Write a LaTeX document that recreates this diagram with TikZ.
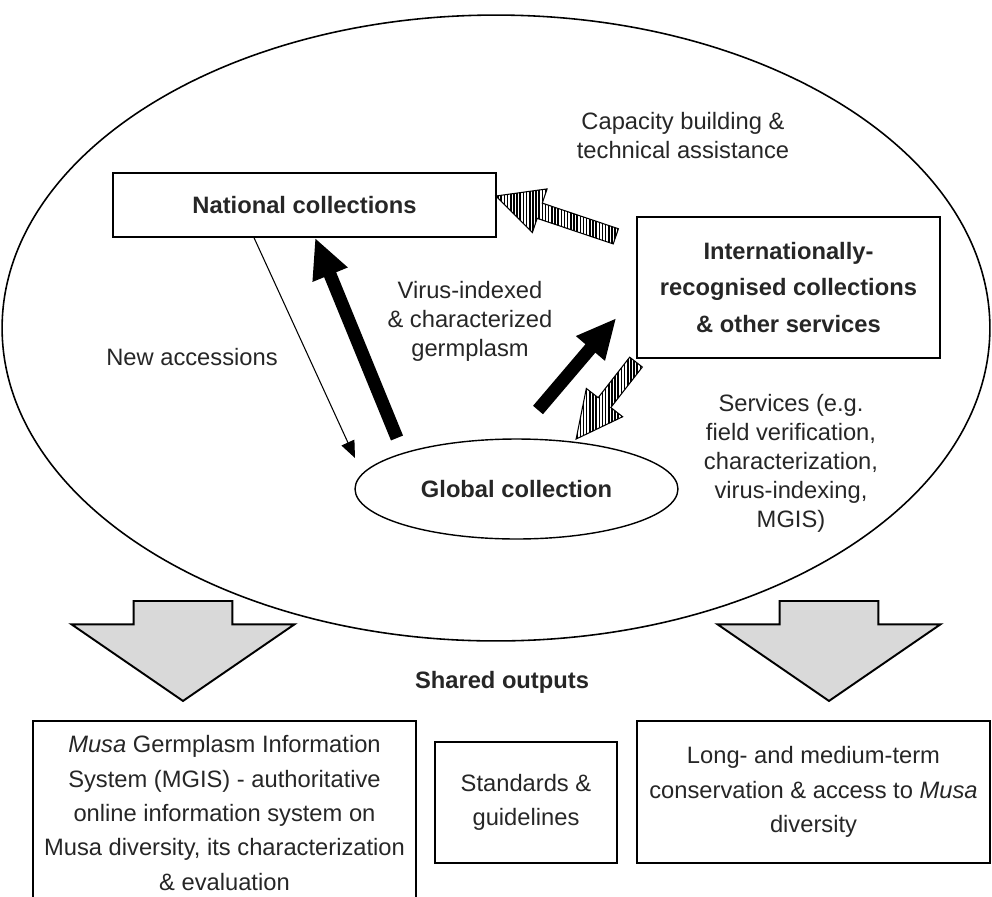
\documentclass[tikz,border=0pt]{standalone}
\usepackage{fontspec}
\setmainfont{Liberation Sans}
\usetikzlibrary{shapes.geometric,shapes.arrows,patterns,arrows.meta,calc}

% fine vertical hatching for the service arrows
\pgfdeclarepatternformonly{densevlines}{\pgfqpoint{-0.1pt}{-0.1pt}}{\pgfqpoint{1.9pt}{1.9pt}}{\pgfqpoint{1.8pt}{1.8pt}}%
{\pgfsetlinewidth{0.9pt}\pgfpathmoveto{\pgfqpoint{0.9pt}{-0.1pt}}\pgfpathlineto{\pgfqpoint{0.9pt}{1.9pt}}\pgfusepath{stroke}}

\tikzset{
  box/.style={draw, rectangle, line width=0.8pt, align=center, inner sep=0pt, text=black!85,
    font=\fontsize{13.5}{19.5}\selectfont},
  boldbox/.style={box, font=\fontsize{13.5}{20.5}\selectfont\bfseries},
  lbl/.style={align=center, text=black!85, font=\fontsize{13.5}{16.5}\selectfont},
  hatcharrow/.style={draw, line width=0.6pt, single arrow, pattern=densevlines, inner xsep=0pt,
    inner ysep=0.15cm, single arrow head extend=0.3cm, single arrow tip angle=53, anchor=tail},
  outarrow/.style={draw, line width=1.1pt, fill=black!15, single arrow, inner xsep=0pt,
    inner ysep=0.97cm, minimum height=2cm, single arrow head extend=1.24cm,
    single arrow tip angle=111, anchor=tail, rotate=-90},
  bigarrow/.style={line width=0.26cm, -{Triangle[length=0.8cm,width=0.7cm]}},
  thinarrow/.style={line width=0.6pt, -{Triangle[length=0.34cm,width=0.28cm]}},
}

\begin{document}
\begin{tikzpicture}[x=0.02cm, y=-0.02cm]
\useasboundingbox (0,0) rectangle (992,897);
% network of collections
\node[draw, ellipse, line width=0.9pt, inner sep=0pt, minimum width=19.76cm, minimum height=12.52cm] (net) at (496,328) {};
\node[boldbox, minimum width=7.66cm, minimum height=1.28cm] (nat) at (304.5,205) {National collections};
\node[boldbox, minimum width=6.06cm, minimum height=2.82cm] (intl) at (788.5,287.5) {Internationally-\\recognised collections\\\& other services};
\node[draw, ellipse, line width=0.8pt, inner sep=0pt, minimum width=6.46cm, minimum height=2cm, text=black!85,
  font=\fontsize{13.5}{16.5}\selectfont\bfseries] (glob) at (516.5,489) {Global collection};

\node[lbl] (cap) at (683,136) {Capacity building \&\\technical assistance};
\node[lbl] (virus) at (470,321) {Virus-indexed\\\& characterized\\germplasm};
\node[lbl] (newacc) at (192,357) {New accessions};
\node[lbl] (serv) at (791,463) {Services (e.g.\\field verification,\\characterization,\\virus-indexing,\\MGIS)};

% flows
\draw[thinarrow] ($(nat.south)+(-50.5,0)$) -- ($(glob.center)+(-161.5,-31)$);
\draw[bigarrow] ($(glob.center)+(-119.5,-51)$) -- ($(nat.south)+(10.5,0)$);
\draw[bigarrow] ($(glob.center)+(21.5,-79)$) -- ($(intl.west)+(-20,30.5)$);
\node[hatcharrow, minimum height=2.53cm, rotate=161.4] (capflow) at ($(intl.west)+(-20,-51)$) {};
\node[hatcharrow, minimum height=1.95cm, rotate=232.1] (servflow) at ($(intl.south west)+(0,3)$) {};

% shared outputs
\node[outarrow] (outl) at (183,600) {};
\node[outarrow] (outr) at (829,600) {};
\node[text=black!85, font=\fontsize{13.5}{16.5}\selectfont\bfseries] (shared) at (502,682) {Shared outputs};

\node[box, minimum width=7.66cm, minimum height=3.68cm] (mgis) at (224.5,813) {\textit{Musa} Germplasm Information\\System (MGIS) - authoritative\\online information system on\\Musa diversity, its characterization\\\& evaluation};
\node[box, minimum width=3.64cm, minimum height=2.42cm] (std) at (526,802.5) {Standards \&\\guidelines};
\node[box, minimum width=7.06cm, minimum height=2.84cm] (cons) at (813.5,792) {Long- and medium-term\\conservation \& access to \textit{Musa}\\diversity};
\end{tikzpicture}
\end{document}
